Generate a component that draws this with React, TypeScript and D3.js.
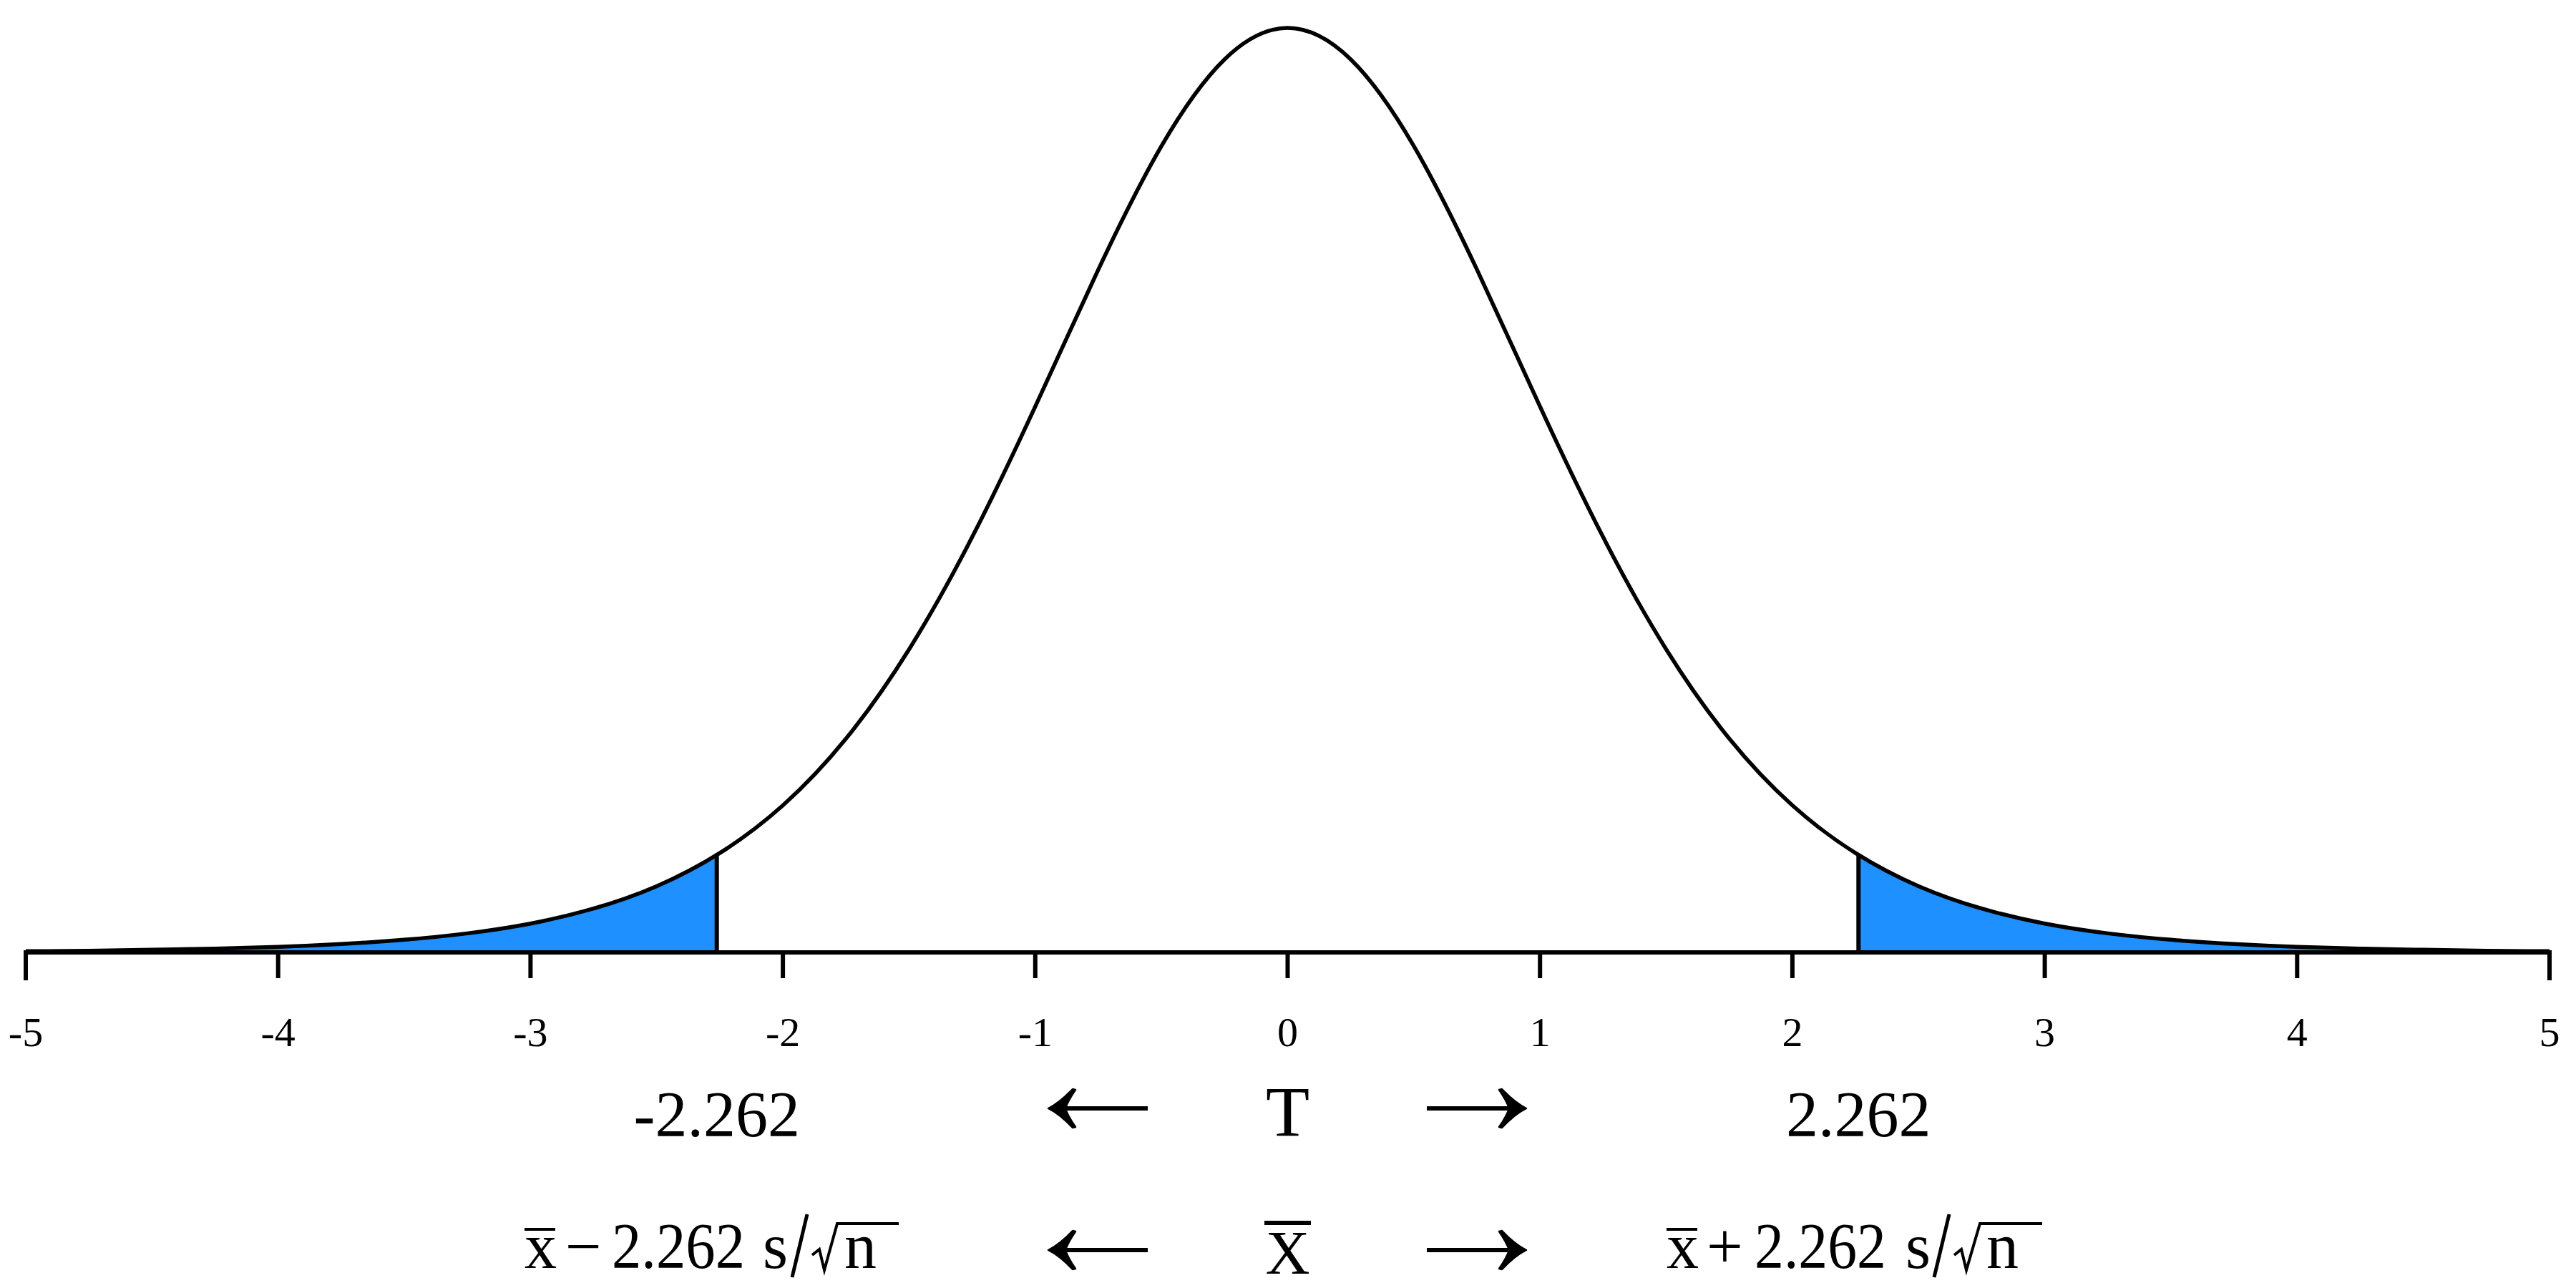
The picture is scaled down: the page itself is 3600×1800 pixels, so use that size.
import React from "react";
import * as d3 from "d3";

// t distribution (df = 9), density read at half-grid (symmetric)
const tGrid = [0, 0.25, 0.5, 0.75, 1, 1.25, 1.5, 1.75, 2, 2.25, 2.5, 2.75, 3, 3.25, 3.5, 3.75, 4, 4.25, 4.5, 4.75, 5];
const density = [0.388, 0.3748, 0.3384, 0.2866, 0.2291, 0.1743, 0.1272, 0.0897, 0.0617, 0.0417, 0.0278, 0.0184, 0.0121, 0.008, 0.0053, 0.0035, 0.0023, 0.0016, 0.0011, 0.0007, 0.0005];
const critical = 2.262;
const critDensity = 0.0409;
const tickValues = [-5, -4, -3, -2, -1, 0, 1, 2, 3, 4, 5];
const critLabels = ["-2.262", "2.262"];

const W = 3600;
const H = 1800;
const FONT = "'Liberation Serif', 'Times New Roman', serif";
const BLUE = "#1E90FF";

function Arrow({ tip, end, cy, dir }: { tip: number; end: number; cy: number; dir: number }) {
  // dir = 1 : pointing left (tip at left), -1 : pointing right
  const s = dir;
  const head = `M${tip},${cy} Q${tip + s * 16},${cy - 8} ${tip + s * 34},${cy - 27} L${tip + s * 38},${cy - 26} Q${tip + s * 27},${cy - 10} ${tip + s * 24},${cy} Q${tip + s * 27},${cy + 10} ${tip + s * 38},${cy + 26} L${tip + s * 34},${cy + 27} Q${tip + s * 16},${cy + 8} ${tip},${cy} Z`;
  return (
    <g>
      <line x1={tip + s * 8} x2={end} y1={cy} y2={cy} stroke="#000" strokeWidth={6} />
      <path d={head} fill="#000" stroke="#000" strokeWidth={2.5} strokeLinejoin="round" />
    </g>
  );
}

export default function App() {
  const x = d3.scaleLinear().domain([-5, 5]).range([36, 3563]);
  const y = d3.scaleLinear().domain([0, density[0]]).range([1331, 39]);

  const pts: [number, number][] = [];
  for (let i = tGrid.length - 1; i >= 1; i--) pts.push([-tGrid[i], density[i]]);
  for (let i = 0; i < tGrid.length; i++) pts.push([tGrid[i], density[i]]);

  const line = d3
    .line<[number, number]>()
    .x((d) => x(d[0]))
    .y((d) => y(d[1]))
    .curve(d3.curveNatural);
  const area = d3
    .area<[number, number]>()
    .x((d) => x(d[0]))
    .y0(y(0))
    .y1((d) => y(d[1]))
    .curve(d3.curveNatural);

  const y0 = y(0);
  const tickLen = 36;
  const axisPath = `M${x(-5)},${y0 + tickLen} V${y0} H${x(5)} V${y0 + tickLen}`;

  const cx = x(0);
  const row1 = 1549;
  const row2 = 1747;

  return (
    <svg
      width={W}
      height={H}
      viewBox={`0 0 ${W} ${H}`}
      style={{ position: "absolute", left: 0, top: 0, background: "#fff" }}
    >
      <defs>
        <clipPath id="tails">
          <rect x={x(-5)} y={0} width={x(-critical) - x(-5)} height={y0} />
          <rect x={x(critical)} y={0} width={x(5) - x(critical)} height={y0} />
        </clipPath>
      </defs>
      <rect x={0} y={0} width={W} height={H} fill="#fff" />
      <path d={area(pts) || ""} fill={BLUE} clipPath="url(#tails)" />
      <path d={line(pts) || ""} fill="none" stroke="#000" strokeWidth={5.5} />
      {[-critical, critical].map((c) => (
        <line key={c} x1={x(c)} x2={x(c)} y1={y0} y2={y(critDensity)} stroke="#000" strokeWidth={6} />
      ))}
      <path d={axisPath} fill="none" stroke="#000" strokeWidth={6} strokeLinecap="square" />
      {tickValues.slice(1, -1).map((t) => (
        <line key={t} x1={x(t)} x2={x(t)} y1={y0} y2={y0 + tickLen} stroke="#000" strokeWidth={6} />
      ))}
      {tickValues.map((t) => (
        <text key={t} x={x(t)} y={1462} textAnchor="middle" fontFamily={FONT} fontSize={58} fill="#000">
          {String(t)}
        </text>
      ))}

      {/* Row 1: T scale */}
      <text x={x(-critical)} y={1588} textAnchor="middle" fontFamily={FONT} fontSize={90} fill="#000">
        {critLabels[0]}
      </text>
      <text x={x(critical)} y={1588} textAnchor="middle" fontFamily={FONT} fontSize={90} fill="#000">
        {critLabels[1]}
      </text>
      <text x={cx} y={1587} textAnchor="middle" fontFamily={FONT} fontSize={100} fill="#000">
        T
      </text>
      <Arrow tip={1465} end={1604} cy={row1} dir={1} />
      <Arrow tip={2133} end={1994} cy={row1} dir={-1} />

      {/* Row 2: X-bar scale */}
      <Arrow tip={1465} end={1604} cy={row2} dir={1} />
      <Arrow tip={2133} end={1994} cy={row2} dir={-1} />
      <text x={cx} y={1780} textAnchor="middle" fontFamily={FONT} fontSize={86} fill="#000">
        X
      </text>
      <line x1={1767} x2={1832} y1={1709} y2={1709} stroke="#000" strokeWidth={6} />

      {/* left formula */}
      <g fontFamily={FONT} fontSize={90} fill="#000">
        <text x={733} y={1772}>x</text>
        <line x1={733} x2={776} y1={1718} y2={1718} stroke="#000" strokeWidth={4} />
        <text x={790} y={1772}>−</text>
        <text x={855} y={1772} textLength={186} lengthAdjust="spacingAndGlyphs">2.262</text>
        <text x={1066} y={1772}>s</text>
        <line x1={1128} x2={1107} y1={1697} y2={1785} stroke="#000" strokeWidth={5} />
        <path d="M1135,1754 L1145,1746 L1152,1775 L1170,1710 L1256,1710" fill="none" stroke="#000" strokeWidth={4} />
        <text x={1180} y={1772}>n</text>
      </g>

      {/* right formula */}
      <g fontFamily={FONT} fontSize={90} fill="#000">
        <text x={2329} y={1772}>x</text>
        <line x1={2329} x2={2372} y1={1718} y2={1718} stroke="#000" strokeWidth={4} />
        <text x={2385} y={1772}>+</text>
        <text x={2452} y={1772} textLength={184} lengthAdjust="spacingAndGlyphs">2.262</text>
        <text x={2663} y={1772}>s</text>
        <line x1={2724} x2={2703} y1={1697} y2={1785} stroke="#000" strokeWidth={5} />
        <path d="M2731,1754 L2741,1746 L2748,1775 L2767,1710 L2854,1710" fill="none" stroke="#000" strokeWidth={4} />
        <text x={2776} y={1772}>n</text>
      </g>
    </svg>
  );
}
